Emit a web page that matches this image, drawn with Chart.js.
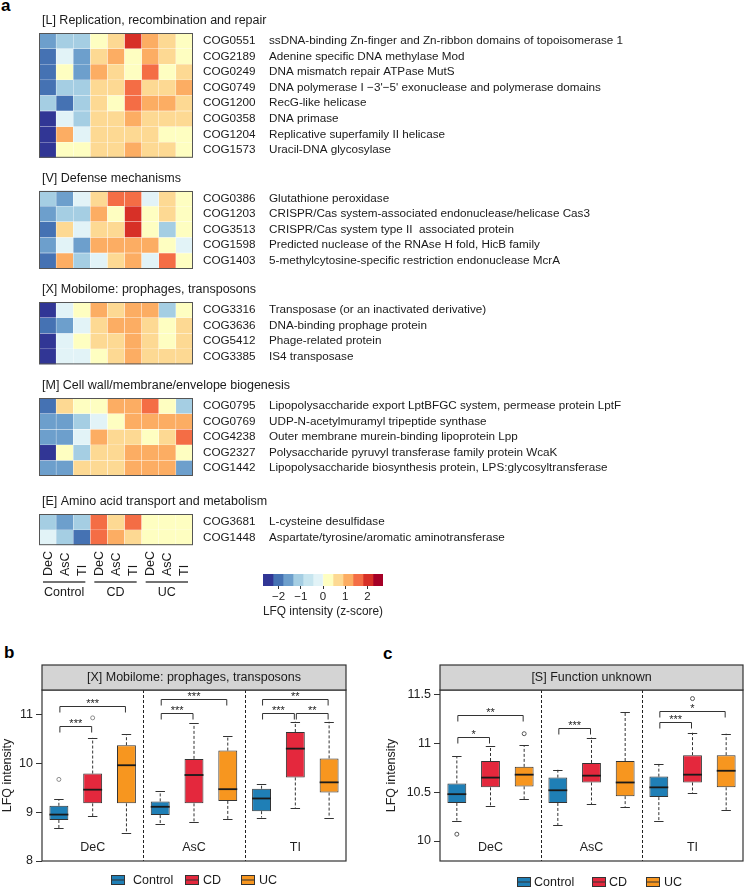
<!DOCTYPE html>
<html lang="en">
<head>
<meta charset="UTF-8">
<title>LFQ intensity heatmap and boxplots</title>
<script src="https://cdn.jsdelivr.net/npm/chart.js"></script>
<style>
  body { margin: 0; background: #fff; font-family: "Liberation Sans", Arial, sans-serif; }
  #page { position: relative; width: 744px; height: 887px; overflow: hidden; }
  canvas { position: absolute; }
  .tag { position: absolute; font-weight: bold; font-size: 17px; line-height: 1; color: #000; }
</style>
</head>
<body>
<div id="page">
  <div class="tag" style="left:1px;top:-3px">a</div>
  <div class="tag" style="left:4px;top:644px">b</div>
  <div class="tag" style="left:383px;top:645px">c</div>
  <canvas id="heat" width="744" height="605" style="left:0;top:0"></canvas>
  <canvas id="zscale" width="180" height="55" style="left:240px;top:568px"></canvas>
  <canvas id="boxB" width="372" height="247" style="left:0;top:640px"></canvas>
  <canvas id="boxC" width="372" height="247" style="left:372px;top:640px"></canvas>
</div>
<script>
// ---- heatmap (panel a) ----
const heatColumns = ['DeC', 'AsC', 'TI', 'DeC', 'AsC', 'TI', 'DeC', 'AsC', 'TI'];
const heatGroups = ['Control', 'CD', 'UC'];
const zBreaks = [-2.7, -2.25, -1.8, -1.35, -0.9, -0.45, 0, 0.45, 0.9, 1.35, 1.8, 2.25, 2.7];
const zColors = ['#313695', '#4572b3', '#6d9fcc', '#a5cee3', '#c7e5ef', '#e2f3f7',
                 '#fefec1', '#fdd993', '#fcad63', '#f46d45', '#d73027', '#a50026'];
const zTicks = [-2, -1, 0, 1, 2];

const titleL = '[L] Replication, recombination and repair';
const cogL = ['COG0551', 'COG2189', 'COG0249', 'COG0749', 'COG1200', 'COG0358', 'COG1204', 'COG1573'];
const nameL = ['ssDNA-binding Zn-finger and Zn-ribbon domains of topoisomerase 1',
  'Adenine specific DNA methylase Mod', 'DNA mismatch repair ATPase MutS',
  'DNA polymerase I \u22123\'\u22125\' exonuclease and polymerase domains', 'RecG-like helicase',
  'DNA primase', 'Replicative superfamily II helicase', 'Uracil-DNA glycosylase'];
const zL = [
  [-1.6, -1.1, -1.1, 0.2, 0.7, 2.0, 1.1, 0.7, 0.2],
  [-2.0, -0.2, -1.6, 0.7, 1.1, 0.2, 1.1, 0.7, 0.2],
  [-2.0, 0.2, -1.6, 1.1, 0.7, 0.2, 1.6, 0.2, 0.7],
  [-2.0, -1.1, -1.1, 0.7, 0.7, 1.6, 0.7, 0.7, 1.1],
  [-1.1, -2.0, -1.1, 0.7, 0.2, 1.6, 1.1, 1.1, 0.7],
  [-2.5, -0.2, -1.1, 0.7, 0.7, 1.1, 0.7, 0.7, 0.7],
  [-2.5, 1.1, -0.2, 0.7, 0.7, 0.7, 0.7, 0.2, 0.2],
  [-2.5, 0.2, 0.2, 0.7, 0.7, 1.1, 0.7, 0.7, 0.2]
];

const titleV = '[V] Defense mechanisms';
const cogV = ['COG0386', 'COG1203', 'COG3513', 'COG1598', 'COG1403'];
const nameV = ['Glutathione peroxidase', 'CRISPR/Cas system-associated endonuclease/helicase Cas3',
  'CRISPR/Cas system type II  associated protein', 'Predicted nuclease of the RNAse H fold, HicB family',
  '5-methylcytosine-specific restriction endonuclease McrA'];
const zV = [
  [-1.1, -1.6, -0.2, 0.7, 1.6, 1.6, -0.2, 0.7, 0.2],
  [-1.6, -1.1, -1.1, 1.1, 0.2, 2.0, 0.2, 0.7, 0.2],
  [-2.0, 0.7, -0.2, 0.7, 0.7, 2.0, 0.2, -1.1, 0.2],
  [-1.6, -0.2, -1.6, 1.1, 1.1, 1.1, 1.1, 0.2, -0.2],
  [-2.0, 1.1, -1.1, -0.2, 0.7, 1.1, -0.2, 1.6, 0.2]
];

const titleX = '[X] Mobilome: prophages, transposons';
const cogX = ['COG3316', 'COG3636', 'COG5412', 'COG3385'];
const nameX = ['Transposase (or an inactivated derivative)', 'DNA-binding prophage protein',
  'Phage-related protein', 'IS4 transposase'];
const zX = [
  [-2.5, -0.2, 0.2, 1.1, 0.7, 1.1, 1.1, -1.1, 0.2],
  [-2.0, -1.6, -0.2, 0.7, 1.1, 1.1, 0.7, 0.2, 0.7],
  [-2.5, -0.2, 0.2, 0.7, 0.7, 1.1, 0.7, 0.2, 0.7],
  [-2.5, -0.2, -0.2, 0.2, 0.7, 1.1, 0.7, 0.7, 0.7]
];

const titleM = '[M] Cell wall/membrane/envelope biogenesis';
const cogM = ['COG0795', 'COG0769', 'COG4238', 'COG2327', 'COG1442'];
const nameM = ['Lipopolysaccharide export LptBFGC system, permease protein LptF',
  'UDP-N-acetylmuramyl tripeptide synthase', 'Outer membrane murein-binding lipoprotein Lpp',
  'Polysaccharide pyruvyl transferase family protein WcaK',
  'Lipopolysaccharide biosynthesis protein, LPS:glycosyltransferase'];
const zM = [
  [-2.0, 0.7, 0.2, 0.2, 1.1, 1.1, 1.6, 0.2, -1.1],
  [-1.6, -1.6, -1.1, -0.2, 0.2, 1.1, 1.1, 1.1, 1.1],
  [-1.6, -1.6, -0.2, 1.1, 0.7, 0.7, 0.2, 0.7, 1.6],
  [-2.5, 0.2, -1.1, 0.7, 0.7, 1.1, 1.1, 1.1, 0.2],
  [-1.6, -1.6, 0.7, 0.7, 0.7, 1.1, 1.1, 1.1, -1.6]
];

const titleE = '[E] Amino acid transport and metabolism';
const cogE = ['COG3681', 'COG1448'];
const nameE = ['L-cysteine desulfidase', 'Aspartate/tyrosine/aromatic aminotransferase'];
const zE = [
  [-1.1, -1.6, -1.1, 1.6, 0.7, 1.6, 0.2, 0.2, 0.2],
  [-0.2, -1.1, -2.0, 1.6, 1.1, 0.7, 0.2, 0.2, 0.2]
];

// ---- boxplots (panels b, c) ----
const regions = ['DeC', 'AsC', 'TI'];
const conditions = ['Control', 'CD', 'UC'];
const condColors = ['#1f7fb6', '#e4283d', '#f7961f'];

const bLow = [8.67, 8.92, 8.57, 8.76, 8.79, 8.86, 8.89, 9.08, 8.89];
const bQ1 = [8.84, 9.18, 9.18, 8.94, 9.18, 9.23, 9.02, 9.71, 9.40];
const bMed = [8.95, 9.46, 9.96, 9.11, 9.76, 9.47, 9.28, 10.30, 9.61];
const bQ3 = [9.13, 9.79, 10.37, 9.22, 10.09, 10.26, 9.48, 10.64, 10.10];
const bHigh = [9.26, 10.52, 10.59, 9.43, 10.82, 10.56, 9.57, 10.85, 10.85];
const bOutliers = [[0, 9.67], [1, 10.93]];
const bBrackets = [[0, 1, 10.76, '***'], [0, 2, 11.18, '***'], [3, 4, 11.03, '***'], [3, 5, 11.31, '***'],
                   [6, 7, 11.03, '***'], [7, 8, 11.03, '**'], [6, 8, 11.31, '**']];
const bTicks = [8, 9, 10, 11];

const cLow = [10.21, 10.36, 10.43, 10.16, 10.38, 10.35, 10.21, 10.49, 10.32];
const cQ1 = [10.39, 10.55, 10.56, 10.39, 10.60, 10.46, 10.45, 10.60, 10.55];
const cMed = [10.48, 10.65, 10.68, 10.52, 10.67, 10.60, 10.55, 10.68, 10.72];
const cQ3 = [10.59, 10.82, 10.76, 10.65, 10.80, 10.82, 10.66, 10.88, 10.88];
const cHigh = [10.87, 10.97, 10.98, 10.73, 11.06, 11.32, 10.79, 11.11, 11.10];
const cOutliers = [[0, 10.07], [2, 11.10], [7, 11.46]];
const cBrackets = [[0, 1, 11.07, '*'], [0, 2, 11.29, '**'], [3, 4, 11.16, '***'],
                   [6, 7, 11.22, '***'], [6, 8, 11.33, '*']];
const cTicks = [10, 10.5, 11, 11.5];

Chart.defaults.font.family = '"Liberation Sans", Arial, sans-serif';
Chart.defaults.color = '#222';
const FONT = '"Liberation Sans", Arial, sans-serif';

function zColor(v) {
  for (let i = 0; i < zColors.length; i++) if (v < zBreaks[i + 1]) return zColors[i];
  return zColors[zColors.length - 1];
}

const sections = [
  { title: titleL, cog: cogL, name: nameL, z: zL },
  { title: titleV, cog: cogV, name: nameV, z: zV },
  { title: titleX, cog: cogX, name: nameX, z: zX },
  { title: titleM, cog: cogM, name: nameM, z: zM },
  { title: titleE, cog: cogE, name: nameE, z: zE }
];
const sectionGaps = [2.1, 2.15, 2.15, 2.45]; // empty rows between blocks
let rowPos = 0;
sections.forEach((s, i) => { s.start = rowPos; rowPos += s.z.length + (sectionGaps[i] || 0); });
const totalRows = rowPos;

const heatSets = [];
sections.forEach(s => s.z.forEach((row, r) => heatSets.push({
  data: row.map(() => [s.start + r, s.start + r + 1]),
  backgroundColor: row.map(zColor),
  borderColor: 'rgba(255,255,255,0.35)', borderWidth: 0.5, borderSkipped: false,
  barPercentage: 1, categoryPercentage: 1, grouped: false
})));

const heatText = {
  id: 'heatText',
  afterDraw(chart) {
    const { ctx, chartArea: ca, scales: { x, y } } = chart;
    const cw = x.getPixelForValue(1) - x.getPixelForValue(0);
    ctx.save();
    ctx.fillStyle = '#1a1a1a';
    ctx.textBaseline = 'middle';
    sections.forEach(s => {
      const top = y.getPixelForValue(s.start), bot = y.getPixelForValue(s.start + s.z.length);
      ctx.strokeStyle = '#555'; ctx.lineWidth = 1;
      ctx.strokeRect(ca.left + 0.5, Math.round(top) + 0.5, ca.right - ca.left - 1, bot - top - 1);
      ctx.textAlign = 'left';
      ctx.font = '12.5px ' + FONT;
      ctx.fillText(s.title, ca.left + 3, top - 12.5);
      ctx.font = '11.7px ' + FONT;
      s.cog.forEach((c, r) => {
        const yy = y.getPixelForValue(s.start + r + 0.5);
        ctx.fillText(c, ca.right + 10, yy);
        ctx.fillText(s.name[r], ca.right + 76, yy);
      });
    });
    ctx.font = '12.5px ' + FONT;
    heatColumns.forEach((c, i) => {
      ctx.save();
      ctx.translate(x.getPixelForValue(i) + 0.5, 576);
      ctx.rotate(-Math.PI / 2);
      ctx.textAlign = 'left';
      ctx.fillText(c, 0, 0);
      ctx.restore();
    });
    heatGroups.forEach((g, k) => {
      const xl = x.getPixelForValue(3 * k) - cw / 2 + 4, xr = x.getPixelForValue(3 * k + 2) + cw / 2 - 5;
      ctx.strokeStyle = '#444'; ctx.lineWidth = 1.5;
      ctx.beginPath(); ctx.moveTo(xl, 582); ctx.lineTo(xr, 582); ctx.stroke();
      ctx.textAlign = 'center'; ctx.font = '12.5px ' + FONT;
      ctx.fillText(g, (xl + xr) / 2, 593);
    });
    ctx.restore();
  }
};

new Chart(document.getElementById('heat'), {
  type: 'bar',
  data: { labels: heatColumns, datasets: heatSets },
  options: {
    responsive: false, animation: false, events: [],
    layout: { padding: { left: 39, right: 744 - 193, top: 33, bottom: 605 - 33 - totalRows * 15.6 } },
    plugins: { legend: { display: false }, tooltip: { enabled: false } },
    scales: {
      x: { display: false },
      y: { display: false, min: 0, max: totalRows, reverse: true }
    }
  },
  plugins: [heatText]
});

// ---- colour key ----
new Chart(document.getElementById('zscale'), {
  type: 'bar',
  data: {
    labels: [''],
    datasets: zColors.map((c, i) => ({
      data: [[zBreaks[i], zBreaks[i + 1]]], backgroundColor: c, borderWidth: 0,
      barPercentage: 1, categoryPercentage: 1, grouped: false
    }))
  },
  options: {
    indexAxis: 'y', responsive: false, animation: false, events: [],
    layout: { padding: { left: 23, right: 37, top: 6, bottom: 0 } },
    plugins: { legend: { display: false }, tooltip: { enabled: false } },
    scales: {
      y: { display: false },
      x: {
        type: 'linear', min: zBreaks[0], max: zBreaks[zBreaks.length - 1],
        afterBuildTicks: s => { s.ticks = zTicks.map(v => ({ value: v })); },
        afterFit: s => { s.height = 37; },
        border: { display: false },
        grid: { drawOnChartArea: false, tickLength: 3, color: '#333' },
        ticks: { padding: 1, autoSkip: false, maxRotation: 0, font: { size: 11.5 },
                 callback: v => v < 0 ? '\u2212' + Math.abs(v) : String(v) },
        title: { display: true, text: 'LFQ intensity (z-score)', font: { size: 12.5 }, padding: { top: 0, bottom: 4 } }
      }
    }
  }
});

// ---- boxplots ----
function boxChart(id, cfg) {
  const labels = [];
  regions.forEach(r => conditions.forEach(c => labels.push(r + ' ' + c)));
  const datasets = conditions.map((c, k) => ({
    label: c,
    data: cfg.q1.map((q, i) => i % 3 === k ? [q, cfg.q3[i]] : null),
    backgroundColor: condColors[k], borderColor: '#333', borderWidth: 1, borderSkipped: false,
    barPercentage: 0.56, categoryPercentage: 1, grouped: false
  }));
  const extras = {
    id: 'boxExtras',
    afterDatasetsDraw(chart) {
      const { ctx, chartArea: ca, scales: { x, y } } = chart;
      const step = x.getPixelForValue(1) - x.getPixelForValue(0);
      const half = step * 0.56 / 2;
      ctx.save();
      cfg.med.forEach((m, i) => {
        const cx = x.getPixelForValue(i);
        ctx.strokeStyle = '#333'; ctx.lineWidth = 1; ctx.setLineDash([3, 2]);
        ctx.beginPath();
        ctx.moveTo(cx, y.getPixelForValue(cfg.q3[i])); ctx.lineTo(cx, y.getPixelForValue(cfg.hi[i]));
        ctx.moveTo(cx, y.getPixelForValue(cfg.q1[i])); ctx.lineTo(cx, y.getPixelForValue(cfg.lo[i]));
        ctx.stroke();
        ctx.setLineDash([]);
        ctx.beginPath();
        [cfg.hi[i], cfg.lo[i]].forEach(v => {
          const py = Math.round(y.getPixelForValue(v)) + 0.5;
          ctx.moveTo(cx - half / 2, py); ctx.lineTo(cx + half / 2, py);
        });
        ctx.stroke();
        ctx.strokeStyle = '#1a1a1a'; ctx.lineWidth = 1.8;
        const pm = y.getPixelForValue(m);
        ctx.beginPath(); ctx.moveTo(cx - half, pm); ctx.lineTo(cx + half, pm); ctx.stroke();
      });
      ctx.lineWidth = 1; ctx.strokeStyle = cfg.outColor;
      cfg.out.forEach(([i, v]) => {
        ctx.beginPath(); ctx.arc(x.getPixelForValue(i), y.getPixelForValue(v), 2, 0, Math.PI * 2); ctx.stroke();
      });
      // region separators
      ctx.strokeStyle = '#222'; ctx.setLineDash([3, 2]);
      [2, 5].forEach(i => {
        const sx = Math.round((x.getPixelForValue(i) + x.getPixelForValue(i + 1)) / 2) + 0.5;
        ctx.beginPath(); ctx.moveTo(sx, ca.top); ctx.lineTo(sx, ca.bottom); ctx.stroke();
      });
      ctx.setLineDash([]);
      // significance brackets
      ctx.strokeStyle = '#333'; ctx.fillStyle = '#222';
      ctx.textAlign = 'center'; ctx.textBaseline = 'bottom'; ctx.font = '11px ' + FONT;
      cfg.brackets.forEach(([a, b, v, t]) => {
        const x1 = x.getPixelForValue(a) + 1, x2 = x.getPixelForValue(b) - 1;
        const py = Math.round(y.getPixelForValue(v)) + 0.5;
        ctx.beginPath();
        ctx.moveTo(x1, py + 6); ctx.lineTo(x1, py); ctx.lineTo(x2, py); ctx.lineTo(x2, py + 6);
        ctx.stroke();
        ctx.fillText(t, (x1 + x2) / 2, py + 3);
      });
      // region names
      ctx.font = '12.5px ' + FONT; ctx.textBaseline = 'middle';
      regions.forEach((r, g) => ctx.fillText(r, x.getPixelForValue(3 * g + 1), ca.bottom - 13));
      // frame and header strip
      ctx.lineWidth = 1.2; ctx.strokeStyle = '#333';
      ctx.strokeRect(ca.left, ca.top, ca.right - ca.left, ca.bottom - ca.top);
      ctx.fillStyle = '#d4d4d4';
      ctx.fillRect(ca.left, ca.top - 25, ca.right - ca.left, 25);
      ctx.strokeRect(ca.left, ca.top - 25, ca.right - ca.left, 25);
      ctx.fillStyle = '#1a1a1a';
      ctx.fillText(cfg.header, (ca.left + ca.right) / 2, ca.top - 12);
      // legend
      ctx.textAlign = 'left';
      conditions.forEach((c, k) => {
        const ix = cfg.legendIcon[k], ly = cfg.legendY;
        ctx.fillStyle = condColors[k];
        ctx.fillRect(ix, ly - 4.5, 13, 9);
        ctx.lineWidth = 1; ctx.strokeStyle = '#333';
        ctx.strokeRect(ix + 0.5, ly - 4.5, 13, 9);
        ctx.beginPath(); ctx.moveTo(ix + 1, ly); ctx.lineTo(ix + 13, ly); ctx.stroke();
        ctx.fillStyle = '#1a1a1a';
        ctx.fillText(c, cfg.legendText[k], ly + 0.5);
      });
      ctx.restore();
    }
  };
  new Chart(document.getElementById(id), {
    type: 'bar',
    data: { labels, datasets },
    options: {
      responsive: false, animation: false, events: [],
      layout: { padding: { left: 0, right: cfg.padRight, top: 50, bottom: 26 } },
      plugins: { legend: { display: false }, tooltip: { enabled: false } },
      scales: {
        x: { display: false },
        y: {
          min: cfg.min, max: cfg.max,
          afterBuildTicks: s => { s.ticks = cfg.ticks.map(v => ({ value: v })); },
          afterFit: s => { s.width = cfg.axisW; },
          border: { display: false },
          grid: { drawOnChartArea: false, tickLength: 6, color: '#333' },
          ticks: { padding: 3, font: { size: 12.5 }, callback: v => String(v) },
          title: { display: true, text: 'LFQ intensity', font: { size: 12.5 }, padding: { top: cfg.titlePad, bottom: 0 } }
        }
      }
    },
    plugins: [extras]
  });
}

boxChart('boxB', {
  lo: bLow, q1: bQ1, med: bMed, q3: bQ3, hi: bHigh, out: bOutliers, brackets: bBrackets,
  ticks: bTicks, min: 8, max: 11.5, axisW: 42, padRight: 26, titlePad: 0.5, outColor: '#8a8a8a',
  header: titleX, legendIcon: [111, 185, 241], legendText: [133, 203, 259], legendY: 240
});
boxChart('boxC', {
  lo: cLow, q1: cQ1, med: cMed, q3: cQ3, hi: cHigh, out: cOutliers, brackets: cBrackets,
  ticks: cTicks, min: 9.795, max: 11.548, axisW: 68, padRight: 1, titlePad: 12.5, outColor: '#555',
  header: '[S] Function unknown', legendIcon: [145, 220, 274], legendText: [162, 237, 292], legendY: 242
});
</script>
</body>
</html>
